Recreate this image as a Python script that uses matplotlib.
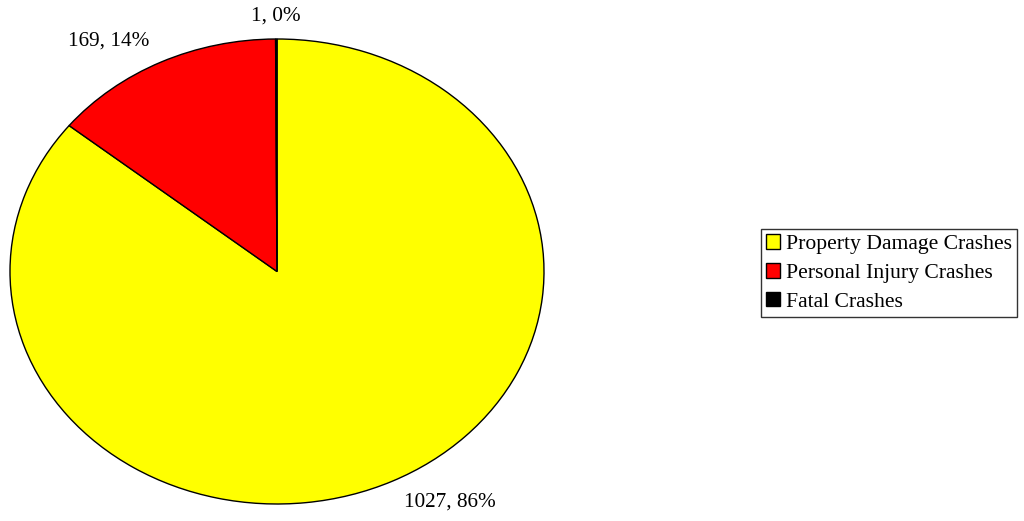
import matplotlib.pyplot as plt

plt.rcParams['font.family'] = ['Liberation Serif', 'DejaVu Serif']

categories = ["Property Damage Crashes", "Personal Injury Crashes", "Fatal Crashes"]
counts = [1027, 169, 1]
colors = ["#ffff00", "#ff0000", "#000000"]

total = sum(counts)
labels = ["%d, %d%%" % (c, round(100.0 * c / total)) for c in counts]

fig = plt.figure(figsize=(10.24, 5.21), dpi=100)
# stretched axes -> elliptical pie like the original
ax = fig.add_axes([10 / 1024, 17 / 521, 534 / 1024, 465 / 521])

wedges, texts = ax.pie(counts, colors=colors, labels=labels, startangle=90,
                       counterclock=False, labeldistance=1.1,
                       wedgeprops=dict(edgecolor="black", linewidth=1.0),
                       textprops=dict(fontsize=15.3, va="center"))
texts[2].set_ha("center")
ax.set_aspect("auto")
ax.set_xlim(-1, 1)
ax.set_ylim(-1, 1)
ax.axis("off")

leg = fig.legend(wedges, categories, loc="center left",
                 bbox_to_anchor=(761 / 1024, 1 - 273 / 521),
                 fontsize=15.6, frameon=True, fancybox=False,
                 handlelength=0.65, handleheight=0.65, handletextpad=0.3,
                 borderpad=0.22, labelspacing=0.42, borderaxespad=0)
leg.get_frame().set_edgecolor("black")
leg.get_frame().set_linewidth(1.0)

fig.savefig("out.png", dpi=100)
